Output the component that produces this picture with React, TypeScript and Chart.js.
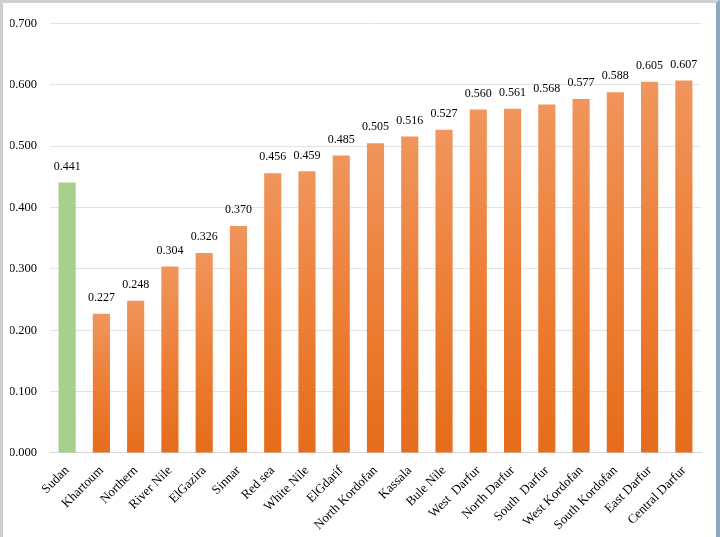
import { useEffect, useRef } from 'react';
import { Chart, registerables } from 'chart.js';

Chart.register(...registerables);

const regions = [
    'Sudan', 'Khartoum', 'Northern', 'River Nile', 'ElGazira', 'Sinnar', 'Red sea',
    'White Nile', 'ElGdarif', 'North Kordofan', 'Kassala', 'Bule Nile', 'West  Darfur',
    'North Darfur', 'South  Darfur', 'West Kordofan', 'South Kordofan', 'East Darfur',
    'Central Darfur'
];
const scores = [
    0.441, 0.227, 0.248, 0.304, 0.326, 0.370, 0.456, 0.459, 0.485, 0.505, 0.516,
    0.527, 0.560, 0.561, 0.568, 0.577, 0.588, 0.605, 0.607
];
const yTicks = [0, 0.1, 0.2, 0.3, 0.4, 0.5, 0.6, 0.7];

const FONT = '"Liberation Serif", "DejaVu Serif", serif';

// draws the value above each bar
const valueLabels = {
    id: 'valueLabels',
    afterDatasetsDraw(chart: any) {
        const ctx = chart.ctx;
        const meta = chart.getDatasetMeta(0);
        ctx.save();
        ctx.font = `12px ${FONT}`;
        ctx.fillStyle = '#000';
        ctx.textAlign = 'center';
        ctx.textBaseline = 'bottom';
        meta.data.forEach((bar: any, i: number) => {
            ctx.fillText(scores[i].toFixed(3), bar.x, bar.y - 10);
        });
        ctx.restore();
    }
};

const App = () => {
    const canvas = useRef<HTMLCanvasElement>(null);

    useEffect(() => {
        document.body.style.margin = '0';

        const chart = new Chart(
            // @ts-expect-error next
            canvas.current,
            {
                type: 'bar',
                data: {
                    labels: regions,
                    datasets: [{
                        data: scores,
                        backgroundColor: (c: any) => {
                            const ch = c.chart;
                            const ys = ch.scales?.y;
                            if (!ys || c.dataIndex === undefined) return '#ee7f33';
                            if (c.dataIndex === 0) return '#a8d08d';
                            const top = ys.getPixelForValue(scores[c.dataIndex]);
                            const bottom = ys.getPixelForValue(0);
                            if (!isFinite(top) || !isFinite(bottom) || top === bottom) return '#ee7f33';
                            const g = ch.ctx.createLinearGradient(0, top, 0, bottom);
                            g.addColorStop(0, '#f0955d');
                            g.addColorStop(0.5, '#ed7f36');
                            g.addColorStop(1, '#e56c1b');
                            return g;
                        },
                        borderWidth: 0,
                        categoryPercentage: 1,
                        barPercentage: 0.5
                    }]
                },
                options: {
                    animation: false,
                    maintainAspectRatio: false,
                    responsive: true,
                    layout: {
                        padding: { top: 6, right: 15, left: 7, bottom: 2 }
                    },
                    plugins: {
                        legend: { display: false },
                        tooltip: { enabled: false }
                    },
                    scales: {
                        x: {
                            grid: { display: false },
                            border: { color: '#d9d9d9' },
                            afterFit: (axis: any) => {
                                axis.paddingLeft = 0;
                                axis.paddingRight = 0;
                            },
                            ticks: {
                                color: '#000',
                                font: { family: FONT, size: 13 },
                                minRotation: 45,
                                maxRotation: 45,
                                autoSkip: false,
                                padding: 2
                            }
                        },
                        y: {
                            min: 0,
                            max: 0.7,
                            afterBuildTicks: (axis: any) => {
                                axis.ticks = yTicks.map(v => ({ value: v }));
                            },
                            afterFit: (axis: any) => {
                                axis.width = 40;
                            },
                            grid: { color: '#e3e3e3', drawTicks: false },
                            border: { display: false },
                            ticks: {
                                color: '#000',
                                font: { family: FONT, size: 12.5 },
                                padding: 13,
                                callback: (v: any) => Number(v).toFixed(3)
                            }
                        }
                    }
                },
                plugins: [valueLabels]
            }
        );

        return () => {
            chart.destroy();
        };
    }, []);

    return (
        <div
            style={{
                width: 720,
                height: 537,
                boxSizing: 'border-box',
                borderTop: '3px solid #cfcfcf',
                borderLeft: '3px solid #cfcfcf',
                borderRight: '4px solid #8fa8c4',
                position: 'relative',
                background: '#fff'
            }}
        >
            <canvas ref={canvas} role="img" aria-label="Scores by region"></canvas>
        </div>
    );
};

export default App;
